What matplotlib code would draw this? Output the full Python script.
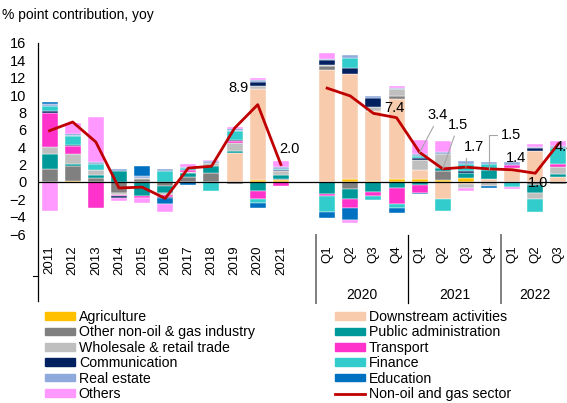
import matplotlib.pyplot as plt
import numpy as np

# 2011-2021 annual, then 2020Q1-2022Q3
periods = ['2011', '2012', '2013', '2014', '2015', '2016', '2017', '2018', '2019', '2020', '2021',
           'Q1', 'Q2', 'Q3', 'Q4', 'Q1', 'Q2', 'Q3', 'Q4', 'Q1', 'Q2', 'Q3']
quarter_years = ['2020', '2021', '2022']

agriculture = [0, 0.1, 0, 0, 0, 0, 0, 0, 0, 0.23, 0.25,
               0, 0.38, 0.1, 0.38, 0.38, 0.23, 0.5, 0, 0, 0, 0]
downstream = [0, 0, 0, 0, 0, 0, 0, 0, 3.3, 10.43, 0,
              12.85, 12.1, 8.1, 9.2, 1.0, -1.96, -0.2, 0.3, 1.65, 3.6, 0.61]
other_industry = [1.5, 1.75, 0.42, -1.3, 0.3, -0.5, 0.55, 1.0, -0.2, 0, 0.1,
                  0.45, -0.77, 0, 0.3, 0, 1.04, 0, 0, 0, -0.3, -0.2]
public_admin = [1.7, 0.27, 0.35, 1.27, -1.57, -0.77, 0.45, 0.84, 0.27, -1.1, 0.45,
                -1.38, -1.19, -1.11, -0.65, -0.35, 0.38, 0.55, 1.07, 0, -1.0, 0.3]
wholesale = [0.85, 1.1, 0.65, -0.2, 0.15, -0.27, 0.15, 0.38, 0.96, 0.38, 0.5,
             0.15, 0, 0.46, 0.77, 1.15, 1.57, -0.45, -0.45, 0, -0.7, 0.84]
transport = [3.9, 0.95, -2.95, -0.15, -0.27, -0.23, 0.2, 0, 0.19, -0.9, -0.45,
             -0.19, -1.0, -0.5, -1.88, -0.96, 0, 0, 0, 0.3, 0, 0.27]
communication = [0.23, 0.12, 0, -0.15, 0, -0.1, 0, 0, 0.15, 0.5, 0.1,
                 0.55, 0.61, 1.0, 0, 0.19, 0, 0.15, 0, 0, 0.3, 0]
finance = [0.58, 0.95, 0.7, 0, 0, 1.23, 0.27, -1.0, 0.96, -0.38, 0.12,
           -1.84, 1.19, -0.46, -0.42, 0.27, -1.34, 0.9, 0.69, -0.54, -1.5, 1.92]
real_estate = [0.2, 0.2, 0.2, 0.2, 0.19, 0.2, 0.15, 0.2, 0.15, 0.2, 0.25,
               0.2, 0.3, 0.19, 0.19, 0.2, 0.27, 0.35, 0.2, 0.3, 0.1, 0.2]
education = [0.2, 0.1, 0, 0, 1.15, -0.65, -0.4, 0, 0.1, -0.65, 0,
             -0.77, -1.42, 0, -0.58, -0.1, 0, 0, -0.3, 0, 0, 0]
others = [-3.3, 1.2, 5.2, -0.35, -0.6, -0.96, 0.35, 0.15, 0.25, 0.2, 0.69,
          0.65, -0.38, 0, 0.19, 1.69, 1.27, -0.35, 0, -0.3, 0.35, 0.58]

non_oil = [5.9, 6.9, 4.6, -0.7, -0.6, -1.9, 1.6, 1.8, 6.2, 8.9, 2.0,
           10.8, 9.9, 7.9, 7.4, 3.4, 1.5, 1.7, 1.5, 1.4, 1.0, 4.4]

sectors = ['Agriculture', 'Downstream activities', 'Other non-oil & gas industry',
           'Public administration', 'Wholesale & retail trade', 'Transport',
           'Communication', 'Finance', 'Real estate', 'Education', 'Others']
series = [agriculture, downstream, other_industry, public_admin, wholesale, transport,
          communication, finance, real_estate, education, others]
colors = ['#FFC000', '#F8CBAD', '#808080', '#009999', '#BFBFBF', '#FF33CC',
          '#002060', '#33CCCC', '#8EA9DB', '#0070C0', '#FF99FF']
line_color = '#C00000'

plt.rcParams['font.family'] = ['Liberation Sans', 'DejaVu Sans']

fig = plt.figure(figsize=(5.67, 4.03), dpi=100)
ax = fig.add_axes([38 / 567, 1 - 234 / 403, 532 / 567, 191 / 403])

# annual bars at 0..10, one empty slot, then the quarters
x = np.r_[np.arange(11), np.arange(12, 23)]
width = 0.69

pos_base = np.zeros(len(x))
neg_base = np.zeros(len(x))
handles = {}
for name, vals, col in zip(sectors, series, colors):
    v = np.array(vals, dtype=float)
    up = v > 0
    dn = v < 0
    ax.bar(x[up], v[up], width, bottom=pos_base[up], color=col,
           edgecolor='white', linewidth=0.3)
    ax.bar(x[dn], v[dn], width, bottom=neg_base[dn], color=col,
           edgecolor='white', linewidth=0.3)
    pos_base[up] += v[up]
    neg_base[dn] += v[dn]
    handles[name] = plt.Rectangle((0, 0), 1, 1, color=col)

tot = np.array(non_oil)
ax.plot(x[:11], tot[:11], color=line_color, lw=2, zorder=5)
ax.plot(x[11:], tot[11:], color=line_color, lw=2, zorder=5)
ax.axhline(0, color='black', lw=0.9, zorder=4)

# value labels: (index, dx, dy in pixels, leader style)
lead = dict(arrowstyle='-', color='#A6A6A6', lw=0.8, shrinkA=1, shrinkB=0)
labels = [
    (9, -19, 17, None),
    (10, 9, 16, None),
    (14, -2, 10, None),
    (15, 18, 37, dict(lead, relpos=(0.4, 0))),
    (16, 15, 44, dict(lead, relpos=(0.4, 0))),
    (17, 8, 20, dict(lead, relpos=(0.15, 0))),
    (18, 22, 34, dict(lead, relpos=(0, 0.5),
                      connectionstyle='angle,angleA=0,angleB=90,rad=0')),
    (19, 4, 12, None),
    (20, 3, -10, None),
]
for i, dx, dy, arrow in labels:
    ax.annotate(f'{non_oil[i]:.1f}', xy=(x[i], non_oil[i]), xytext=(dx, dy),
                textcoords='offset pixels', ha='center', va='center',
                fontsize=10.5, arrowprops=arrow, zorder=6)
ax.annotate(f'{non_oil[21]:.1f}', xy=(x[21], non_oil[21]), xytext=(-4, -3),
            textcoords='offset pixels', ha='left', va='center', fontsize=10.5,
            annotation_clip=False, zorder=6)

ax.set_xlim(-0.5, 22.5)
ax.set_ylim(-6, 16)
ax.set_yticks(range(-6, 17, 2))
ax.tick_params(axis='y', length=0, pad=8.5, labelsize=10.5)
ax.set_xticks(x, periods, rotation=90)
ax.tick_params(axis='x', length=0, pad=8, labelsize=9.5)
for s in ['top', 'right', 'bottom', 'left']:
    ax.spines[s].set_visible(False)

# category axis: left line, group separators and year labels
tr = ax.get_xaxis_transform()
ax.plot([-0.5, -0.5], [1, -0.35], color='black', lw=0.9, transform=tr, clip_on=False)
ax.plot([-0.72, -0.5], [-0.22, -0.22], color='black', lw=0.8, transform=tr, clip_on=False)
for sx, sc, sw in [(11.5, '#808080', 1.4), (15.5, 'black', 0.9), (19.5, '#808080', 1.4)]:
    ax.plot([sx, sx], [-0.005, -0.36], color=sc, lw=sw, transform=tr, clip_on=False)
for yr, cx in zip(quarter_years, [13.5, 17.5, 21.0]):
    ax.text(cx, -0.32, yr, transform=tr, ha='center', va='center', fontsize=10)

fig.text(2 / 567, 1 - 15 / 403, '% point contribution, yoy', ha='left', va='center',
         fontsize=10)

order = ['Agriculture', 'Other non-oil & gas industry', 'Wholesale & retail trade',
         'Communication', 'Real estate', 'Others', 'Downstream activities',
         'Public administration', 'Transport', 'Finance', 'Education']
leg_handles = [handles[n] for n in order] + [plt.Line2D([], [], color=line_color, lw=2)]
leg_labels = order + ['Non-oil and gas sector']
fig.legend(leg_handles, leg_labels, ncol=2, loc='upper left',
           bbox_to_anchor=(45 / 567, 1 - 310 / 403), frameon=False, fontsize=10.2,
           handlelength=2.12, handleheight=0.45, handletextpad=0.27,
           columnspacing=5.65, labelspacing=0.1, borderpad=0, borderaxespad=0)

fig.savefig('out.png', dpi=100)
